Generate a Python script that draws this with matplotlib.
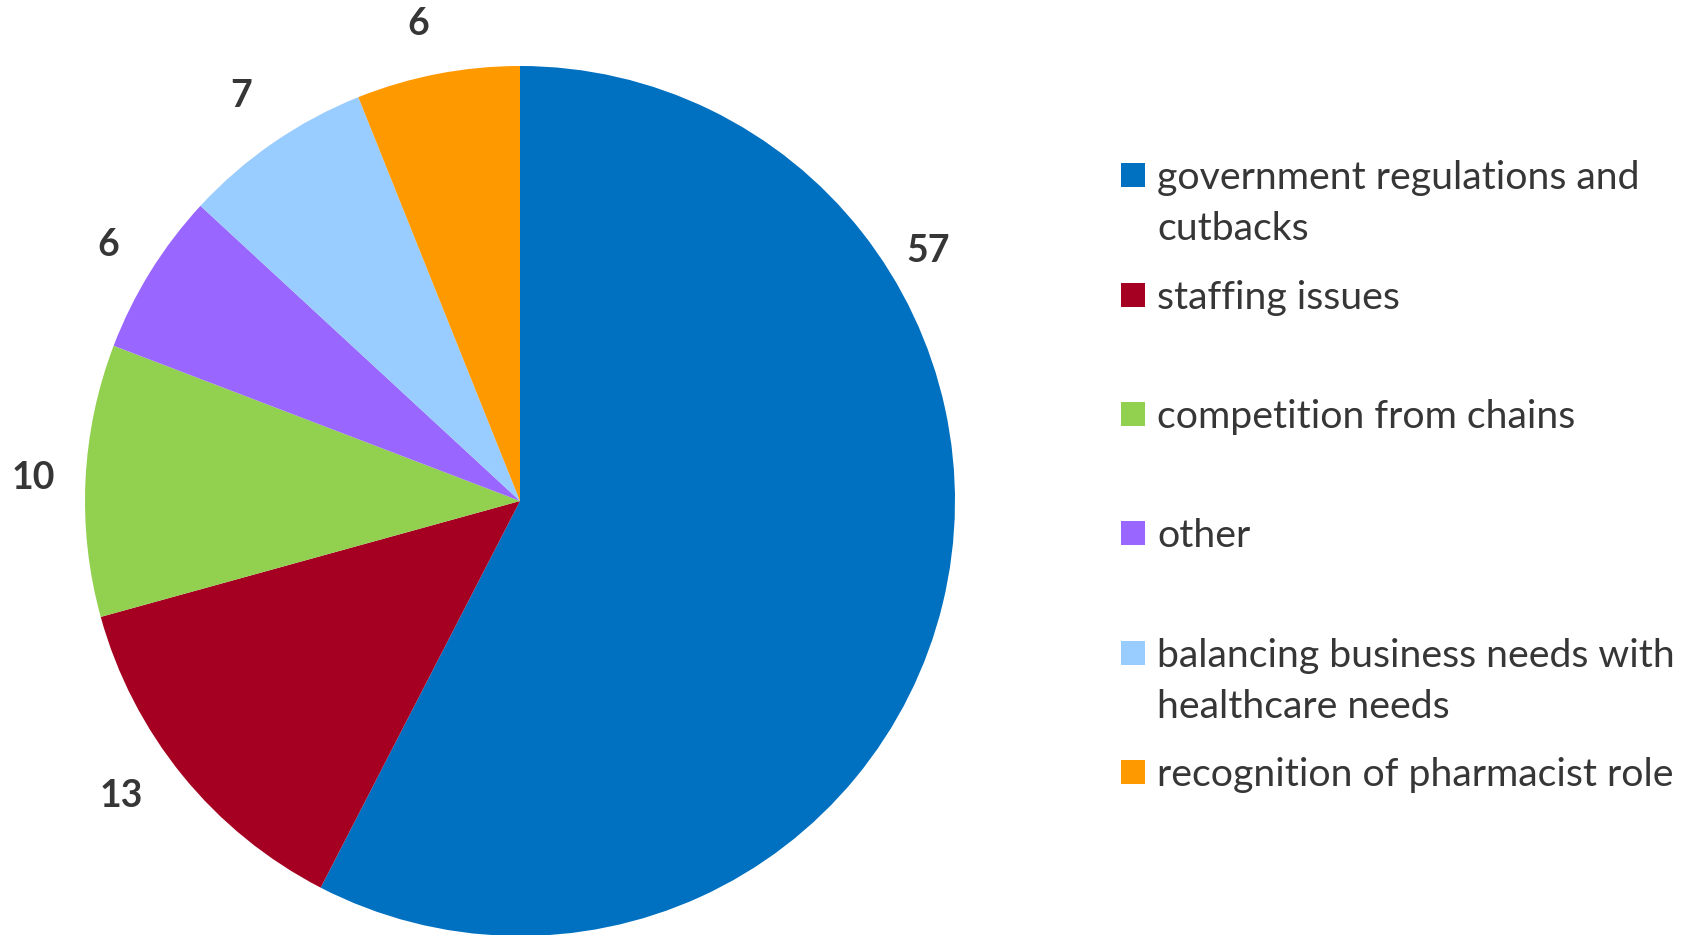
import matplotlib
matplotlib.use("Agg")
import matplotlib.pyplot as plt
from matplotlib.patches import Rectangle
import numpy as np

categories = [
    "government regulations and\ncutbacks",
    "staffing issues",
    "competition from chains",
    "other",
    "balancing business needs with\nhealthcare needs",
    "recognition of pharmacist role",
]
values = [57, 13, 10, 6, 7, 6]
colors = ["#0070C0", "#A50021", "#92D050", "#9966FF", "#99CCFF", "#FF9900"]

text_color = "#363636"
font = "Lato"

W, H = 1698, 935
fig = plt.figure(figsize=(W / 100, H / 100), dpi=100)
fig.patch.set_facecolor("white")

# square axes holding the pie, centred at (520, 501) px with radius 435 px
cx, cy, r = 520, 501, 435
ax = fig.add_axes([(cx - r) / W, (H - cy - r) / H, 2 * r / W, 2 * r / H])
wedges, _ = ax.pie(values, colors=colors, startangle=90, counterclock=False,
                   wedgeprops=dict(linewidth=0))
ax.set_xlim(-1, 1)
ax.set_ylim(-1, 1)
ax.set_aspect("equal")
ax.axis("off")

# value labels just outside each wedge (distance in radii, angle nudge in degrees)
label_dist = [1.10, 1.14, 1.12, 1.115, 1.13, 1.12]
label_nudge = [45.2, -2.6, 0.0, 0.0, 0.0, 1.1]
for w, v, d, nudge in zip(wedges, values, label_dist, label_nudge):
    ang = np.deg2rad((w.theta1 + w.theta2) / 2 + nudge)
    ax.text(d * np.cos(ang), d * np.sin(ang), str(v),
            ha="center", va="center", fontsize=27, fontweight="bold",
            color=text_color, family=font, clip_on=False)

# legend on the right, markers aligned to the first text line
leg_y = [175, 295, 414, 533, 653, 772]
box = 24
line_h = 51
for lab, col, y in zip(categories, colors, leg_y):
    fig.patches.append(Rectangle((1121 / W, (H - y - box / 2) / H), box / W, box / H,
                                 transform=fig.transFigure, facecolor=col,
                                 edgecolor="none"))
    for k, line in enumerate(lab.split("\n")):
        fig.text(1157 / W, (H - (y + 14 + k * line_h)) / H, line, ha="left",
                 va="baseline", fontsize=28.3, color=text_color, family=font,
                 transform=fig.transFigure)

fig.savefig("out.png", dpi=100, facecolor="white")
